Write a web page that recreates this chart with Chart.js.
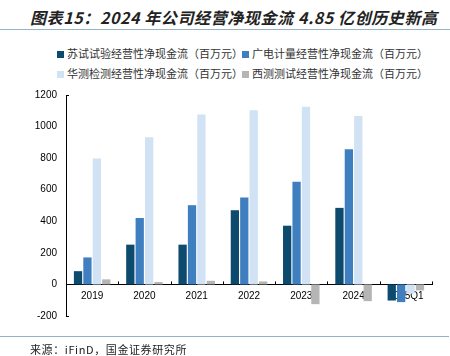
<!DOCTYPE html>
<html><head><meta charset="utf-8">
<script src="https://cdn.jsdelivr.net/npm/chart.js@4"></script>
<style>
html,body{margin:0;padding:0;background:#fff;width:450px;height:356px;overflow:hidden;}
#wrap{position:relative;width:450px;height:356px;}
#title{position:absolute;left:30px;top:5px;font-family:"Noto Sans CJK SC",sans-serif;font-style:italic;font-weight:bold;font-size:16px;color:#222;white-space:nowrap;letter-spacing:0.6px;}
#tl{position:absolute;left:0;top:29px;width:450px;height:1px;background:#93b3c9;}
#bl{position:absolute;left:0;top:336px;width:449px;height:1px;background:#93b3c9;}
#src{position:absolute;left:30px;top:341px;font-family:"Noto Sans CJK SC",sans-serif;font-size:11px;color:#222;white-space:nowrap;letter-spacing:0.6px;}
.lg{position:absolute;font-family:"Noto Sans CJK SC",sans-serif;font-size:11px;color:#333;white-space:nowrap;line-height:14px;letter-spacing:0px;}
.lg i{display:inline-block;width:7px;height:7px;margin-right:3px;vertical-align:0px;}
canvas{position:absolute;left:0;top:0;}
</style></head><body>
<div id="wrap">
<div id="title">图表15：2024 年公司经营净现金流 4.85 亿创历史新高</div>
<div id="tl"></div>
<div id="legend"></div>
<canvas id="c" width="450" height="356"></canvas>
<div id="bl"></div>
<div id="src">来源：iFinD，国金证券研究所</div>
</div>
<script>
const categories = ['2019','2020','2021','2022','2023','2024','2025Q1'];
const seriesNames = ['苏试试验经营性净现金流（百万元）','广电计量经营性净现金流（百万元）','华测检测经营性净现金流（百万元）','西测测试经营性净现金流（百万元）'];
const suShi   = [84, 252, 252, 470, 372, 485, -102];
const guangDian = [171, 421, 502, 550, 650, 857, -112];
const huaCe   = [798, 932, 1077, 1103, 1126, 1067, -59];
const xiCe    = [32, 15, 23, 19, -125, -106, -38];
const yTicks  = [-200, 0, 200, 400, 600, 800, 1000, 1200];
const colors = ['#0c4a6e','#3f7fbf','#d0e2f3','#b5b5b5'];

const lpos = [[57,46],[242,46],[57,66],[242,66]];
const lg = document.getElementById('legend');
seriesNames.forEach((n,i)=>{
  const d=document.createElement('div');d.className='lg';
  d.style.left=lpos[i][0]+'px';d.style.top=lpos[i][1]+'px';
  d.innerHTML='<i style="background:'+colors[i]+'"></i>'+n;
  lg.appendChild(d);
});

const tickPlugin = {
  id:'tickPlugin',
  afterDraw(chart){
    const ctx=chart.ctx, x=chart.scales.x, y=chart.scales.y;
    const y0=y.getPixelForValue(0);
    ctx.save();ctx.strokeStyle='#000';ctx.lineWidth=1;
    const n=categories.length;
    const w=(x.getPixelForValue(1)-x.getPixelForValue(0));
    for(let i=1;i<=n;i++){
      const px=Math.round(x.getPixelForValue(i-1)+w/2)+0.5;
      ctx.beginPath();ctx.moveTo(px,y0);ctx.lineTo(px,y0-3);ctx.stroke();
    }
    const lx=chart.chartArea.left;
    [y.getPixelForValue(1200),y.getPixelForValue(-200)].forEach(py=>{
      ctx.beginPath();ctx.moveTo(lx,Math.round(py)+0.5);ctx.lineTo(lx+3,Math.round(py)+0.5);ctx.stroke();
    });
    ctx.restore();
  }
};

const data = {
  labels: categories,
  datasets: [suShi,guangDian,huaCe,xiCe].map((v,i)=>({
    label: seriesNames[i], data: v, backgroundColor: colors[i],
    categoryPercentage: 0.72, barPercentage: 0.88
  }))
};
new Chart(document.getElementById('c'), {
  type:'bar', data,
  plugins:[tickPlugin],
  options:{
    responsive:false, animation:false,
    layout:{padding:{left:0,right:18,top:95,bottom:40}},
    plugins:{legend:{display:false},tooltip:{enabled:false}},
    scales:{
      x:{
        position:{y:0},
        grid:{display:false,drawTicks:false},
        border:{display:true,color:'#000',width:1},
        ticks:{color:'#000',font:{family:'Liberation Sans',size:10},padding:6,maxRotation:0,autoSkip:false},
        afterFit(s){s.height=0;}
      },
      y:{
        min:-200,max:1200,
        afterBuildTicks(s){s.ticks=yTicks.map(v=>({value:v}));},
        grid:{display:false,drawTicks:false},
        border:{display:true,color:'#000',width:1},
        ticks:{color:'#000',font:{family:'Liberation Sans',size:10},padding:9,callback:v=>String(v)},
        afterFit(s){s.width=66;}
      }
    }
  }
});
</script>
</body></html>
